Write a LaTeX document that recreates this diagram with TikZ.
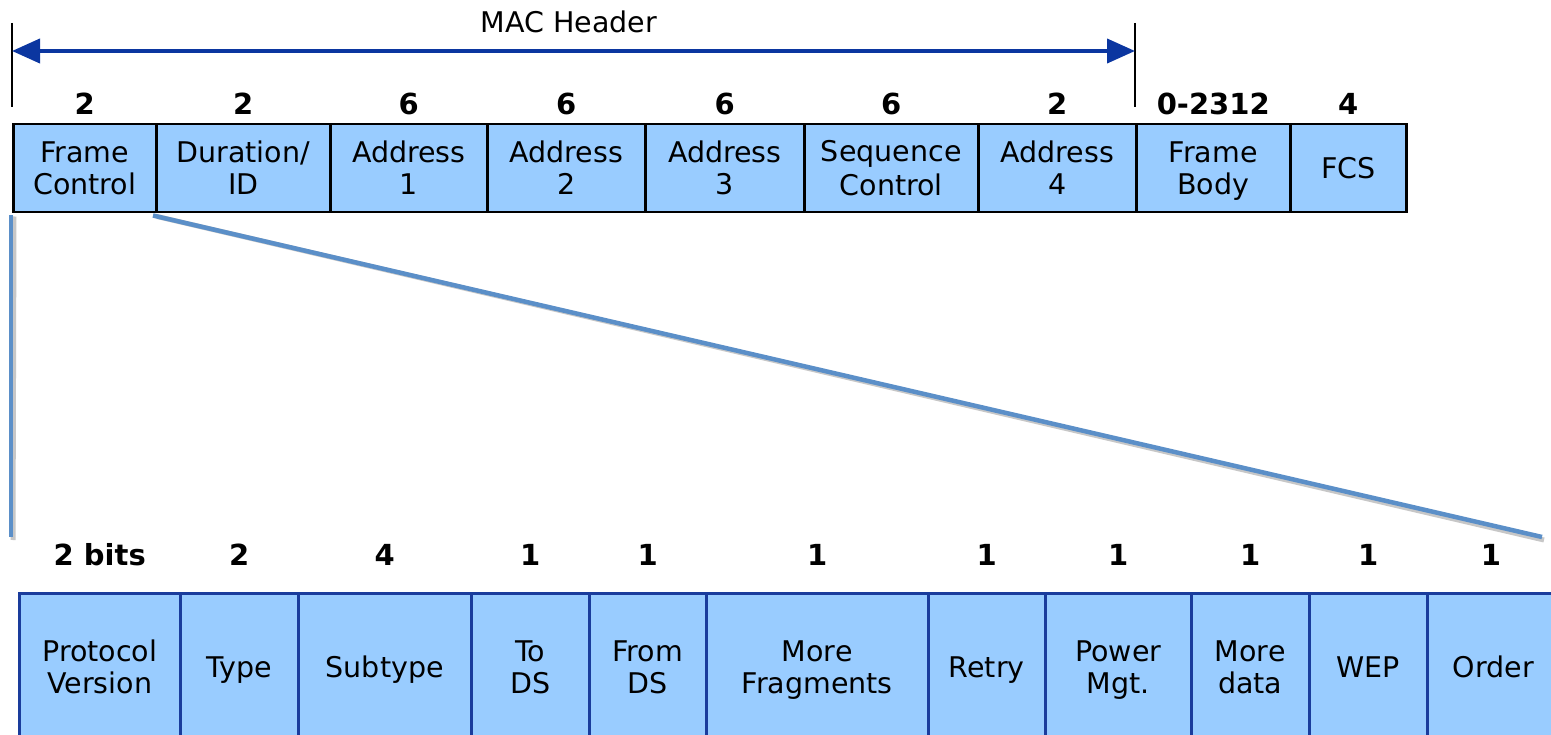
\documentclass[tikz,border=0pt]{standalone}
\usepackage{fontspec}
\setmainfont{DejaVu Sans}
\usetikzlibrary{arrows.meta}
\definecolor{boxfill}{HTML}{99CCFF}
\definecolor{botline}{HTML}{1A3C9C}
\definecolor{hdrblue}{HTML}{0B36A0}
\definecolor{zoomline}{HTML}{5B8FC8}
\newcommand\tst{\rule[-5.6pt]{0pt}{32pt}}
\newcommand\twol[2]{#1\tst\\#2\tst}
\tikzset{
  fld/.style={draw=black, line width=2.5pt, fill=boxfill, inner sep=0pt, anchor=north west,
    minimum height=88pt, align=center, font=\fontsize{28.5}{32}\selectfont},
  bfld/.style={draw=botline, line width=2.5pt, fill=boxfill, inner sep=0pt, anchor=north west,
    minimum height=148pt, align=center, font=\fontsize{28.5}{32}\selectfont},
  num/.style={font=\bfseries\fontsize{29}{32}\selectfont, inner sep=0pt},
  zoomln/.style={draw=zoomline, line width=4.5pt},
  shadowln/.style={draw=black!22, line width=5pt},
  bar/.style={draw=black, line width=2pt},
}
\begin{document}
\begin{tikzpicture}[x=1pt,y=-1pt]
\useasboundingbox (0,0) rectangle (1551,735);
\clip (0,0) rectangle (1551,735);
\fill[white] (0,0) rectangle (1551,735);
% top row
\node[fld, minimum width=143pt] (f1) at (12,123) {\twol{Frame}{Control}};
\node[fld, minimum width=174pt] (f2) at (155,123) {\twol{Duration/}{ID}};
\node[fld, minimum width=157pt] (f3) at (329,123) {\twol{Address}{1}};
\node[fld, minimum width=158pt] (f4) at (486,123) {\twol{Address}{2}};
\node[fld, minimum width=159pt] (f5) at (644,123) {\twol{Address}{3}};
\node[fld, minimum width=174pt] (f6) at (803,123) {\twol{Sequence}{Control}};
\node[fld, minimum width=158pt] (f7) at (977,123) {\twol{Address}{4}};
\node[fld, minimum width=154pt] (f8) at (1135,123) {\twol{Frame}{Body}};
\node[fld, minimum width=116pt] (f9) at (1289,123) {FCS\tst};
\foreach \n/\t in {f1/2,f2/2,f3/6,f4/6,f5/6,f6/6,f7/2,f8/0-2312,f9/4}
  \node[num] (n\n) at ([yshift=19pt]\n.north) {\t};
% MAC header
\coordinate (hlt) at (12,23);
\coordinate (hlb) at (12,107);
\coordinate (hrt) at (1135,23);
\coordinate (hrb) at (1135,107);
\draw[bar] (hlt) -- (hlb);
\draw[bar] (hrt) -- (hrb);
\coordinate (hl) at (12,51);
\coordinate (hr) at (1135,51);
\draw[hdrblue, line width=4pt, {Triangle[length=28pt,width=24pt]}-{Triangle[length=28pt,width=24pt]}] (hl) -- (hr);
\node[font=\fontsize{28.5}{32}\selectfont, inner sep=0pt] (mac) at (569,22) {MAC Header};
% bottom row
\node[bfld, minimum width=161pt] (b1) at (18,592) {\twol{Protocol}{Version}};
\node[bfld, minimum width=118pt] (b2) at (179,592) {Type\tst};
\node[bfld, minimum width=173pt] (b3) at (297,592) {Subtype\tst};
\node[bfld, minimum width=118pt] (b4) at (470,592) {\twol{To}{DS}};
\node[bfld, minimum width=117pt] (b5) at (588,592) {\twol{From}{DS}};
\node[bfld, minimum width=222pt] (b6) at (705,592) {\twol{More}{Fragments}};
\node[bfld, minimum width=117pt] (b7) at (927,592) {Retry\tst};
\node[bfld, minimum width=146pt] (b8) at (1044,592) {\twol{Power}{Mgt.}};
\node[bfld, minimum width=118pt] (b9) at (1190,592) {\twol{More}{data}};
\node[bfld, minimum width=118pt] (b10) at (1308,592) {WEP\tst};
\node[bfld, minimum width=132pt] (b11) at (1426,592) {Order\tst};
\foreach \n/\t in {b1/2 bits,b2/2,b3/4,b4/1,b5/1,b6/1,b7/1,b8/1,b9/1,b10/1}
  \node[num] (n\n) at ([yshift=37pt]\n.north) {\t};
\node[num] (nb11) at ([yshift=37pt]b11.north -| 1491,0) {1};
% zoom connectors
\coordinate (zl) at (11,537);
\coordinate (zr) at (1542,537);
\draw[shadowln] ([xshift=2pt,yshift=-3pt]f1.south west) -- ([xshift=2pt,yshift=-3pt]zl);
\draw[shadowln] ([xshift=2pt,yshift=-3pt]f2.south west) -- ([xshift=2pt,yshift=-3pt]zr);
\draw[zoomln] ([xshift=-1pt,yshift=-2pt]f1.south west) -- (zl);
\draw[zoomln] ([xshift=-2pt,yshift=-2pt]f2.south west) -- (zr);
\end{tikzpicture}
\end{document}
